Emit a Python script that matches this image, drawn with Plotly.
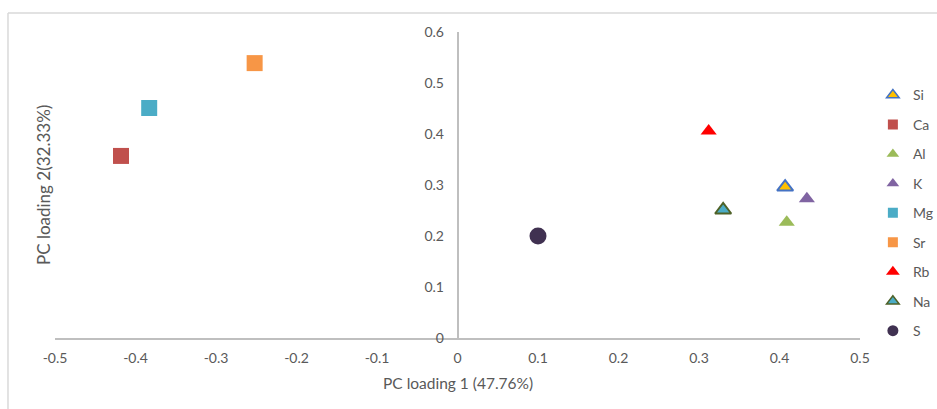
import plotly.graph_objects as go

# PCA loadings per element
elements = ["Si", "Ca", "Al", "K", "Mg", "Sr", "Rb", "Na", "S"]
pc1 = [0.407, -0.418, 0.409, 0.434, -0.383, -0.252, 0.312, 0.330, 0.100]
pc2 = [0.296, 0.357, 0.227, 0.273, 0.451, 0.539, 0.406, 0.251, 0.200]

symbols = ["triangle-up", "square", "triangle-up", "triangle-up", "square",
           "square", "triangle-up", "triangle-up", "circle"]
fills = ["#FFC000", "#C0504D", "#9BBB59", "#8064A2", "#4BACC6",
         "#F79646", "#FF0000", "#4BACC6", "#403151"]
edges = ["#4472C4", "#C0504D", "#9BBB59", "#8064A2", "#4BACC6",
         "#F79646", "#FF0000", "#4F6228", "#403151"]
edge_w = [2, 0, 0, 0, 0, 0, 0, 2, 0]
sizes = [14, 16, 14, 14, 16, 16, 14, 14, 17]
legend_sizes = [11, 10, 11, 11, 10, 10, 12, 11, 11]
legend_edge_w = [1.5, 0, 0, 0, 0, 0, 0, 1.5, 0]

x_ticks = [-0.5, -0.4, -0.3, -0.2, -0.1, 0, 0.1, 0.2, 0.3, 0.4, 0.5]
y_ticks = [0, 0.1, 0.2, 0.3, 0.4, 0.5, 0.6]

FONT = "Lato, 'Open Sans', sans-serif"
GREY = "#595959"
AXIS = "#BFBFBF"

fig = go.Figure()
for i, el in enumerate(elements):
    # plotted point
    fig.add_trace(go.Scatter(
        x=[pc1[i]], y=[pc2[i]], mode="markers", name=el,
        legendgroup=el, showlegend=False,
        marker=dict(symbol=symbols[i], size=sizes[i], color=fills[i],
                    line=dict(color=edges[i], width=edge_w[i])),
    ))
    # legend key with a smaller symbol
    fig.add_trace(go.Scatter(
        x=[None], y=[None], mode="markers", name=el,
        legendgroup=el, showlegend=True,
        marker=dict(symbol=symbols[i], size=legend_sizes[i], color=fills[i],
                    line=dict(color=edges[i], width=legend_edge_w[i])),
    ))

fig.update_layout(
    width=937, height=409,
    margin=dict(l=55, r=77, t=32, b=71, autoexpand=False),
    paper_bgcolor="white", plot_bgcolor="white",
    font=dict(family=FONT, size=14, color=GREY),
    showlegend=True,
    legend=dict(x=1.016, y=0.845, xanchor="left", yanchor="top",
                tracegroupgap=8.25, itemsizing="trace",
                font=dict(family=FONT, size=14, color=GREY),
                bgcolor="rgba(0,0,0,0)"),
    xaxis=dict(range=[-0.5, 0.5], tickvals=x_ticks,
               ticktext=[f"{v:g}" for v in x_ticks],
               showgrid=False, zeroline=False, showline=True,
               linecolor=AXIS, linewidth=1.5, ticks="",
               ticklabelstandoff=6, fixedrange=True),
    yaxis=dict(range=[0, 0.6], tickvals=y_ticks,
               ticktext=[f"{v:g}" for v in y_ticks],
               showgrid=False, zeroline=False, showline=True,
               linecolor=AXIS, linewidth=1.5, ticks="",
               anchor="free", position=0.5,
               ticklabelstandoff=10, fixedrange=True),
    annotations=[
        dict(text="PC loading 1 (47.76%)", xref="paper", yref="paper",
             x=0.5, y=-0.147, xanchor="center", yanchor="middle",
             showarrow=False, font=dict(family=FONT, size=15.5, color=GREY)),
        dict(text="PC loading 2(32.33%)", xref="paper", yref="paper",
             x=-0.0149, y=0.5, xanchor="center", yanchor="middle",
             textangle=-90, showarrow=False,
             font=dict(family=FONT, size=17, color=GREY)),
    ],
    shapes=[
        dict(type="line", xref="paper", yref="paper",
             x0=-0.0584, x1=1.2, y0=1.062, y1=1.062,
             line=dict(color="#D9D9D9", width=1.5)),
        dict(type="line", xref="paper", yref="paper",
             x0=-0.0584, x1=-0.0584, y0=-0.5, y1=1.062,
             line=dict(color="#D9D9D9", width=1.5)),
    ],
)

fig.write_html("out.html")
